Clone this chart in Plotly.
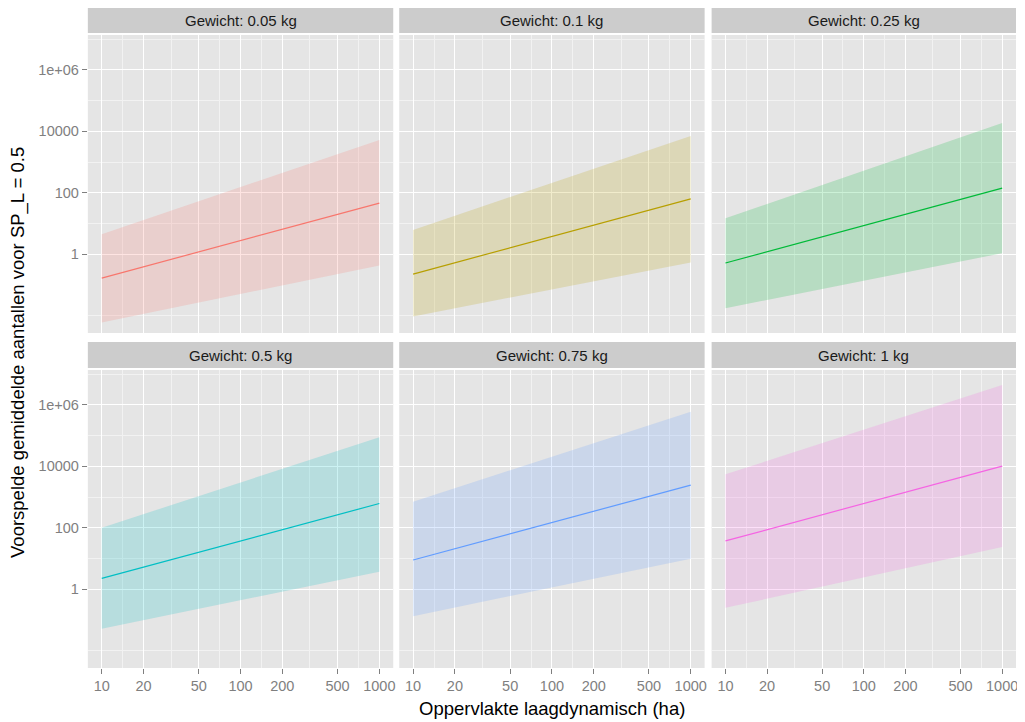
import plotly.graph_objects as go

# ---- data ----
panels = ["Gewicht: 0.05 kg", "Gewicht: 0.1 kg", "Gewicht: 0.25 kg",
          "Gewicht: 0.5 kg", "Gewicht: 0.75 kg", "Gewicht: 1 kg"]
colors = ["#F8766D", "#B79F00", "#00BA38", "#00BFC4", "#619CFF", "#F564E3"]
area = [10, 1000]
# log10 of predicted values at area = 10 and 1000
mean_log = [[-0.78, 1.66], [-0.65, 1.80], [-0.29, 2.15],
            [0.35, 2.79], [0.95, 3.39], [1.57, 4.01]]
upper_log = [[0.65, 3.72], [0.79, 3.85], [1.17, 4.27],
             [2.00, 4.95], [2.85, 5.78], [3.74, 6.65]]
lower_log = [[-2.23, -0.37], [-2.03, -0.27], [-1.76, 0.03],
             [-1.29, 0.57], [-0.88, 0.99], [-0.61, 1.37]]

x_ticks = [10, 20, 50, 100, 200, 500, 1000]
x_minor = [14.142, 31.623, 70.711, 141.42, 316.23, 707.11]
y_ticks = [1, 100, 10000, 1e6]
y_tick_labels = ["1", "100", "10000", "1e+06"]
y_minor = [0.01, 10, 1000, 1e5, 1e7]

OFF = 8  # page body margin
W, H = 1025 - OFF, 722 - OFF
col_px = [(88, 394), (400, 706), (713, 1018)]
row_px = [(35, 333), (370, 668)]
strip_px = [(8, 33), (342, 368)]

def px_x(p): return (p - OFF) / W
def px_y(p): return 1 - (p - OFF) / H

def hex_rgba(h, a):
    h = h.lstrip("#")
    return "rgba(%d,%d,%d,%s)" % (int(h[0:2], 16), int(h[2:4], 16), int(h[4:6], 16), a)

FONT = "Liberation Sans, Arial"
fig = go.Figure()
shapes = []
annotations = []

for i in range(6):
    r, c = divmod(i, 3)
    n = i + 1
    xa = "x" if n == 1 else "x%d" % n
    ya = "y" if n == 1 else "y%d" % n
    lo = [10 ** v for v in lower_log[i]]
    up = [10 ** v for v in upper_log[i]]
    mn = [10 ** v for v in mean_log[i]]
    fig.add_trace(go.Scatter(x=area + area[::-1], y=up + lo[::-1], fill="toself",
                             fillcolor=hex_rgba(colors[i], 0.2), line=dict(width=0),
                             mode="lines", hoverinfo="skip", showlegend=False,
                             xaxis=xa, yaxis=ya))
    fig.add_trace(go.Scatter(x=area, y=mn, mode="lines",
                             line=dict(color=colors[i], width=1.2),
                             showlegend=False, xaxis=xa, yaxis=ya))

    xkey = "xaxis" if n == 1 else "xaxis%d" % n
    ykey = "yaxis" if n == 1 else "yaxis%d" % n
    show_x = r == 1
    show_y = c == 0
    fig.layout[xkey] = dict(
        type="log", range=[0.9, 3.1], domain=[px_x(col_px[c][0]), px_x(col_px[c][1])],
        anchor=ya, tickvals=x_ticks, ticktext=[str(v) for v in x_ticks],
        showticklabels=show_x, ticks="outside" if show_x else "", ticklen=5,
        tickcolor="#7F7F7F", tickwidth=1,
        tickfont=dict(family=FONT, size=14.5, color="#7F7F7F"),
        showgrid=True, gridcolor="white", gridwidth=1.2, zeroline=False, showline=False,
        minor=dict(tickvals=x_minor, showgrid=True, gridcolor="#F2F2F2", gridwidth=0.8, ticklen=0),
        fixedrange=True)
    fig.layout[ykey] = dict(
        type="log", range=[-2.57, 7.14],
        domain=[px_y(row_px[r][1]), px_y(row_px[r][0])],
        anchor=xa, tickvals=y_ticks, ticktext=y_tick_labels,
        showticklabels=show_y, ticks="outside" if show_y else "", ticklen=5,
        tickcolor="#7F7F7F", tickwidth=1,
        tickfont=dict(family=FONT, size=14.5, color="#7F7F7F"),
        showgrid=True, gridcolor="white", gridwidth=1.2, zeroline=False, showline=False,
        minor=dict(tickvals=y_minor, showgrid=True, gridcolor="#F2F2F2", gridwidth=0.8, ticklen=0),
        fixedrange=True)

    # panel background
    shapes.append(dict(type="rect", xref="paper", yref="paper", layer="below",
                       x0=px_x(col_px[c][0]), x1=px_x(col_px[c][1]),
                       y0=px_y(row_px[r][1]), y1=px_y(row_px[r][0]),
                       fillcolor="#E5E5E5", line=dict(width=0)))
    # strip
    shapes.append(dict(type="rect", xref="paper", yref="paper",
                       x0=px_x(col_px[c][0]), x1=px_x(col_px[c][1]),
                       y0=px_y(strip_px[r][1]), y1=px_y(strip_px[r][0]),
                       fillcolor="#CCCCCC", line=dict(width=0)))
    annotations.append(dict(xref="paper", yref="paper",
                            x=px_x((col_px[c][0] + col_px[c][1]) / 2),
                            y=px_y((strip_px[r][0] + strip_px[r][1]) / 2),
                            text=panels[i], showarrow=False,
                            xanchor="center", yanchor="middle",
                            font=dict(family=FONT, size=15, color="#1A1A1A")))

annotations.append(dict(xref="paper", yref="paper", x=px_x(553), y=px_y(708),
                        text="Oppervlakte laagdynamisch (ha)", showarrow=False,
                        xanchor="center", yanchor="middle",
                        font=dict(family=FONT, size=18.5, color="#000000")))
annotations.append(dict(xref="paper", yref="paper", x=px_x(18), y=px_y(352),
                        text="Voorspelde gemiddelde aantallen voor SP_L = 0.5", showarrow=False,
                        textangle=-90, xanchor="center", yanchor="middle",
                        font=dict(family=FONT, size=18.5, color="#000000")))

fig.update_layout(width=W, height=H, margin=dict(l=0, r=0, t=0, b=0),
                  paper_bgcolor="white", plot_bgcolor="rgba(0,0,0,0)",
                  shapes=shapes, annotations=annotations, showlegend=False)

fig.write_html("out.html")
